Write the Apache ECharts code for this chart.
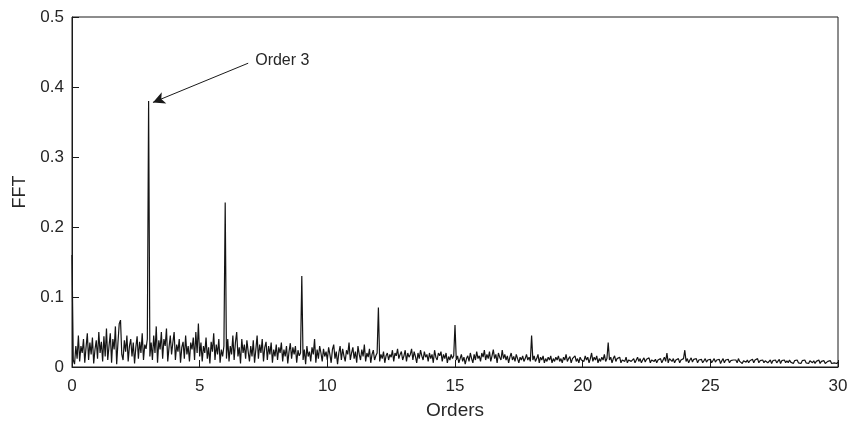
<!DOCTYPE html>
<html>
<head>
<meta charset="utf-8">
<script src="https://cdn.jsdelivr.net/npm/echarts@6/dist/echarts.min.js"></script>
<style>html,body{margin:0;padding:0;background:#fff;}#c{width:859px;height:421px;}</style>
</head>
<body>
<div id="c"></div>
<script>
// Order axis: samples every 0.05 orders from 0 to 30
const orderStart = 0;
const orderStep = 0.05;
// FFT amplitude, one row per order unit (20 samples each)
const fftRow00 = [0.160,0.010,0.004,0.030,0.012,0.045,0.008,0.030,0.020,0.040,0.006,0.028,0.048,0.010,0.035,0.018,0.042,0.005,0.025,0.038];
const fftRow01 = [0.012,0.050,0.020,0.036,0.008,0.044,0.015,0.055,0.010,0.030,0.048,0.006,0.040,0.025,0.058,0.004,0.035,0.062,0.067,0.018];
const fftRow02 = [0.010,0.038,0.022,0.045,0.008,0.030,0.040,0.015,0.035,0.005,0.028,0.044,0.012,0.036,0.020,0.048,0.010,0.032,0.026,0.040];
const fftRow03 = [0.380,0.015,0.035,0.010,0.045,0.020,0.058,0.006,0.038,0.025,0.050,0.012,0.040,0.030,0.055,0.008,0.028,0.045,0.018,0.035];
const fftRow04 = [0.050,0.010,0.032,0.022,0.040,0.006,0.028,0.036,0.012,0.045,0.018,0.030,0.008,0.035,0.025,0.042,0.010,0.050,0.020,0.062];
const fftRow05 = [0.015,0.035,0.008,0.030,0.020,0.042,0.012,0.028,0.005,0.036,0.022,0.048,0.010,0.032,0.018,0.040,0.006,0.025,0.015,0.030];
const fftRow06 = [0.235,0.012,0.040,0.008,0.030,0.018,0.045,0.010,0.035,0.050,0.015,0.028,0.005,0.040,0.020,0.032,0.012,0.038,0.022,0.008];
const fftRow07 = [0.030,0.015,0.038,0.006,0.025,0.045,0.012,0.032,0.020,0.040,0.008,0.028,0.036,0.010,0.030,0.018,0.035,0.006,0.025,0.015];
const fftRow08 = [0.032,0.010,0.028,0.020,0.035,0.008,0.025,0.015,0.030,0.005,0.022,0.034,0.012,0.028,0.018,0.030,0.006,0.024,0.016,0.020];
const fftRow09 = [0.130,0.010,0.025,0.004,0.030,0.015,0.022,0.008,0.028,0.018,0.040,0.006,0.025,0.012,0.030,0.020,0.008,0.026,0.015,0.022];
const fftRow10 = [0.010,0.028,0.018,0.006,0.025,0.032,0.012,0.022,0.004,0.020,0.030,0.010,0.026,0.016,0.008,0.024,0.018,0.035,0.010,0.020];
const fftRow11 = [0.028,0.012,0.022,0.006,0.030,0.018,0.010,0.025,0.015,0.032,0.008,0.020,0.014,0.026,0.006,0.018,0.024,0.010,0.016,0.020];
const fftRow12 = [0.085,0.008,0.018,0.012,0.022,0.006,0.016,0.020,0.010,0.018,0.014,0.024,0.008,0.020,0.016,0.026,0.012,0.018,0.022,0.010];
const fftRow13 = [0.016,0.024,0.008,0.020,0.014,0.018,0.026,0.010,0.022,0.015,0.006,0.020,0.012,0.024,0.016,0.010,0.022,0.014,0.018,0.008];
const fftRow14 = [0.020,0.012,0.018,0.006,0.024,0.014,0.010,0.020,0.016,0.022,0.008,0.018,0.012,0.020,0.006,0.015,0.010,0.018,0.012,0.016];
const fftRow15 = [0.060,0.010,0.016,0.006,0.012,0.018,0.008,0.014,0.004,0.012,0.016,0.008,0.020,0.012,0.006,0.018,0.010,0.022,0.012,0.016];
const fftRow16 = [0.008,0.020,0.014,0.024,0.010,0.018,0.012,0.022,0.008,0.016,0.025,0.012,0.018,0.006,0.020,0.014,0.010,0.024,0.012,0.018];
const fftRow17 = [0.010,0.016,0.006,0.014,0.020,0.010,0.015,0.008,0.018,0.012,0.006,0.014,0.010,0.016,0.008,0.012,0.018,0.010,0.014,0.008];
const fftRow18 = [0.045,0.010,0.016,0.008,0.012,0.018,0.006,0.014,0.010,0.016,0.006,0.012,0.008,0.014,0.010,0.016,0.006,0.012,0.008,0.014];
const fftRow19 = [0.010,0.016,0.008,0.012,0.006,0.014,0.010,0.018,0.008,0.012,0.015,0.006,0.012,0.010,0.016,0.008,0.012,0.006,0.014,0.010];
const fftRow20 = [0.012,0.008,0.016,0.010,0.014,0.006,0.012,0.020,0.008,0.014,0.010,0.016,0.006,0.012,0.008,0.014,0.010,0.018,0.008,0.012];
const fftRow21 = [0.035,0.010,0.014,0.006,0.012,0.016,0.008,0.012,0.010,0.014,0.006,0.010,0.012,0.008,0.014,0.006,0.010,0.012,0.008,0.010];
const fftRow22 = [0.012,0.006,0.010,0.014,0.008,0.012,0.006,0.010,0.013,0.007,0.011,0.009,0.013,0.006,0.010,0.012,0.008,0.011,0.006,0.010];
const fftRow23 = [0.008,0.012,0.006,0.010,0.014,0.008,0.020,0.006,0.012,0.010,0.008,0.012,0.006,0.010,0.009,0.012,0.006,0.010,0.008,0.012];
const fftRow24 = [0.024,0.008,0.012,0.006,0.010,0.013,0.007,0.011,0.009,0.012,0.006,0.010,0.008,0.011,0.006,0.009,0.012,0.007,0.010,0.008];
const fftRow25 = [0.011,0.006,0.009,0.012,0.007,0.010,0.008,0.011,0.005,0.009,0.012,0.006,0.010,0.008,0.011,0.006,0.009,0.007,0.010,0.008];
const fftRow26 = [0.010,0.006,0.012,0.008,0.010,0.005,0.009,0.011,0.007,0.010,0.006,0.009,0.008,0.011,0.006,0.010,0.008,0.012,0.006,0.009];
const fftRow27 = [0.007,0.010,0.006,0.009,0.011,0.006,0.008,0.010,0.005,0.009,0.007,0.010,0.006,0.008,0.011,0.005,0.009,0.007,0.010,0.006];
const fftRow28 = [0.009,0.006,0.010,0.007,0.008,0.005,0.009,0.007,0.010,0.006,0.008,0.005,0.009,0.007,0.010,0.006,0.008,0.005,0.009,0.007];
const fftRow29 = [0.006,0.009,0.005,0.008,0.007,0.010,0.005,0.008,0.006,0.009,0.005,0.007,0.008,0.006,0.009,0.005,0.007,0.006,0.008,0.005];
const fftLast = [0.007];

const xTicks = [0, 5, 10, 15, 20, 25, 30];
const yTicks = [0, 0.1, 0.2, 0.3, 0.4, 0.5];
const xAxisTitle = 'Orders';
const yAxisTitle = 'FFT';
const annotationText = 'Order 3';
const annotationFrom = [6.9, 0.434];
const annotationTo = [3.17, 0.378];

const fftValues = [].concat(fftRow00,fftRow01,fftRow02,fftRow03,fftRow04,fftRow05,fftRow06,fftRow07,fftRow08,fftRow09,
  fftRow10,fftRow11,fftRow12,fftRow13,fftRow14,fftRow15,fftRow16,fftRow17,fftRow18,fftRow19,
  fftRow20,fftRow21,fftRow22,fftRow23,fftRow24,fftRow25,fftRow26,fftRow27,fftRow28,fftRow29,fftLast);
const seriesData = fftValues.map((v, i) => [+(orderStart + i * orderStep).toFixed(2), v]);

const FONT = 'Liberation Sans, Arial, Helvetica, sans-serif';
const TXT = '#262626';
const chart = echarts.init(document.getElementById('c'), null, {renderer: 'canvas'});
chart.setOption({
  animation: false,
  backgroundColor: '#fff',
  grid: {left: 72, right: 21, top: 17, bottom: 54, show: true, borderColor: '#1a1a1a', borderWidth: 1,
    backgroundColor: 'transparent', outerBoundsMode: 'none', containLabel: false},
  xAxis: {
    type: 'value', min: xTicks[0], max: xTicks[xTicks.length - 1], interval: xTicks[1] - xTicks[0],
    name: xAxisTitle, nameLocation: 'middle', nameGap: 34,
    nameTextStyle: {fontFamily: FONT, fontSize: 19, color: TXT},
    axisLine: {show: true, onZero: false, lineStyle: {color: '#1a1a1a', width: 1}},
    axisTick: {show: true, inside: true, length: 7, lineStyle: {color: '#1a1a1a'}},
    axisLabel: {fontFamily: FONT, fontSize: 17, color: TXT, margin: 11},
    splitLine: {show: false}
  },
  yAxis: {
    type: 'value', min: yTicks[0], max: yTicks[yTicks.length - 1], interval: yTicks[1] - yTicks[0],
    name: yAxisTitle, nameLocation: 'middle', nameGap: 42,
    nameTextStyle: {fontFamily: FONT, fontSize: 18, color: TXT},
    axisLine: {show: true, onZero: false, lineStyle: {color: '#1a1a1a', width: 1}},
    axisTick: {show: true, inside: true, length: 7, lineStyle: {color: '#1a1a1a'}},
    axisLabel: {fontFamily: FONT, fontSize: 17, color: TXT, margin: 8,
      formatter: v => (Math.round(v * 10) / 10).toString()},
    splitLine: {show: false}
  },
  series: [{
    type: 'line',
    data: seriesData,
    showSymbol: false,
    symbol: 'none',
    lineStyle: {color: '#141414', width: 1.2},
    markLine: {
      silent: true,
      symbol: ['none', 'arrow'],
      symbolSize: [9, 12],
      label: {show: false},
      lineStyle: {color: '#1a1a1a', width: 1, type: 'solid'},
      data: [[{coord: annotationFrom}, {coord: annotationTo}]]
    },
    markPoint: {
      silent: true,
      symbol: 'circle',
      symbolSize: 0,
      label: {show: true, position: 'right', distance: 7, offset: [0, -3], formatter: annotationText,
        fontFamily: FONT, fontSize: 16, color: TXT},
      data: [{coord: annotationFrom}]
    }
  }]
});
</script>
</body>
</html>
